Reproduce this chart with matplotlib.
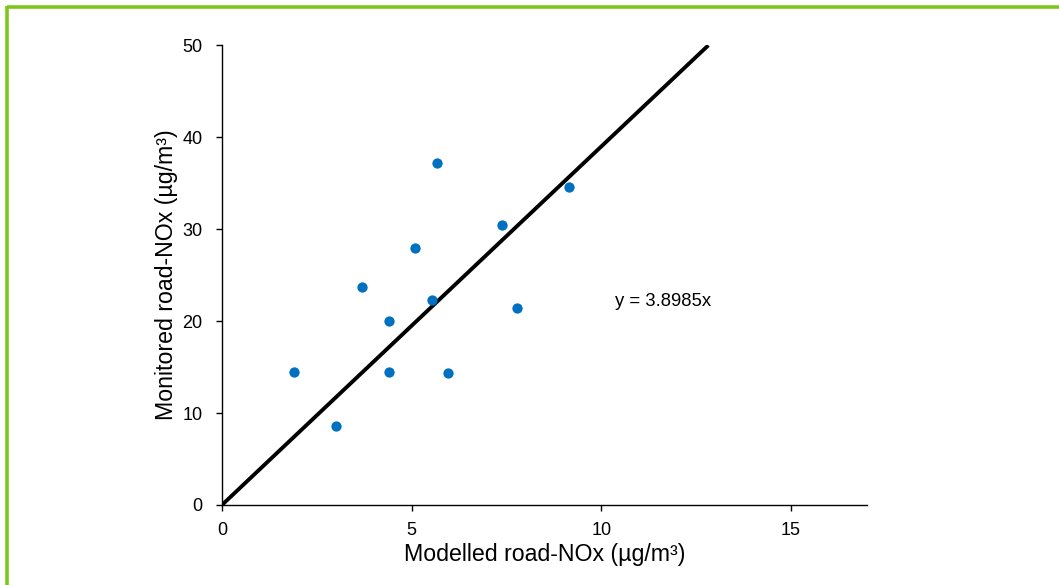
"""
Monitored vs modelled road-NOx scatter with fitted line through origin
"""

from matplotlib import pyplot as plt
from matplotlib.lines import Line2D
import numpy as np

plt.rcParams['font.family'] = ['Liberation Sans', 'DejaVu Sans']

# modelled vs monitored road-NOx (ug/m3)
modelled = [1.89, 3.0, 3.68, 4.40, 4.40, 5.09, 5.54, 5.67, 5.97, 7.39, 7.79, 9.14]
monitored = [14.5, 8.6, 23.7, 20.0, 14.5, 27.9, 22.25, 37.2, 14.3, 30.4, 21.4, 34.6]
slope = 3.8985
x_ticks = [0, 5, 10, 15]
y_ticks = [0, 10, 20, 30, 40, 50]

fig = plt.figure(figsize=(10.59, 5.85), dpi=100)
ax = fig.add_axes([0.2096, 0.1368, 0.6088, 0.7858])

x_line = np.array([0, 50 / slope])
ax.plot(x_line, slope * x_line, color='black', lw=2.8, solid_capstyle='butt', zorder=2)
ax.scatter(modelled, monitored, s=55, color='#0070C0', zorder=3, linewidths=0)

ax.text(10.37, 22.1, "y = 3.8985x", fontsize=13.3, va='center', ha='left')

ax.set_xlim(0, 17)
ax.set_ylim(0, 50)
ax.set_xticks(x_ticks)
ax.set_yticks(y_ticks)
for side in ('top', 'right'):
    ax.spines[side].set_visible(False)
for side in ('left', 'bottom'):
    ax.spines[side].set_linewidth(1.0)
ax.tick_params(direction='out', length=4, width=1.0, labelsize=13)
ax.tick_params(axis='y', pad=10)
ax.tick_params(axis='x', pad=8)

ax.set_xlabel("Modelled road-NOx (µg/m³)", fontsize=16.7)
ax.set_ylabel("Monitored road-NOx (µg/m³)", fontsize=16.7)
ax.xaxis.set_label_coords(0.5, -0.082)
ax.yaxis.set_label_coords(-0.068, 0.5)

# green frame (top and left edges visible)
green = '#7DC71C'
fig.add_artist(Line2D([7 / 1059, 1.0], [1 - 7 / 585, 1 - 7 / 585], color=green, lw=2.6,
                      transform=fig.transFigure, solid_capstyle='butt'))
fig.add_artist(Line2D([7 / 1059, 7 / 1059], [0.0, 1 - 6 / 585], color=green, lw=2.6,
                      transform=fig.transFigure, solid_capstyle='butt'))

plt.savefig("out.png", dpi=100)
